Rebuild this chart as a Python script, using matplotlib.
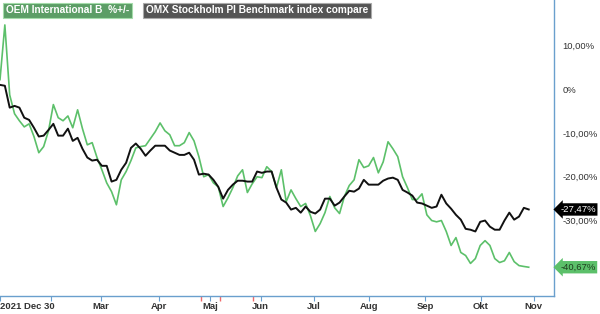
import matplotlib
matplotlib.use('Agg')
import matplotlib.pyplot as plt
import matplotlib.transforms as mtransforms
import numpy as np

# trading days since 2020-12-30, one value roughly every other trading day
last_day = 209
oem = [2.2, 14.7, -1.3, -5.6, -7.2, -8.6, -7.9, -10.8, -14.5, -13.1,
       -9.5, -3.5, -6.5, -7.2, -6.1, -8.8, -4.7, -9.0, -12.7, -12.2,
       -15.6, -18.4, -21.4, -23.4, -26.4, -20.7, -18.8, -16.3, -13.4, -13.1,
       -12.9, -11.3, -9.7, -7.7, -9.5, -10.4, -12.9, -12.9, -12.2, -9.9,
       -11.8, -15.4, -20.0, -19.5, -21.4, -22.3, -26.8, -24.8, -22.5, -19.8,
       -18.4, -23.6, -21.6, -20.0, -20.2, -17.7, -18.8, -22.5, -18.4, -25.7,
       -23.0, -25.0, -26.8, -26.1, -28.9, -32.5, -30.7, -28.2, -24.5, -27.1,
       -28.4, -24.5, -22.0, -20.7, -16.1, -17.9, -17.5, -15.6, -19.1, -16.6,
       -12.0, -13.6, -15.4, -20.0, -22.5, -25.2, -25.2, -23.9, -28.7, -30.0,
       -30.3, -30.0, -32.5, -35.7, -33.9, -37.3, -38.0, -39.8, -38.7, -35.7,
       -34.6, -35.7, -38.7, -39.6, -39.2, -37.3, -39.4, -40.3, -40.5, -40.67]
omx = [1.0, 0.8, -4.2, -3.8, -4.2, -6.5, -7.0, -8.8, -10.8, -10.6,
       -9.3, -7.9, -10.6, -10.6, -9.0, -11.8, -11.1, -13.6, -15.6, -16.3,
       -16.1, -17.5, -17.5, -21.1, -20.7, -18.4, -16.8, -13.4, -12.4, -13.6,
       -15.2, -14.0, -12.9, -12.9, -12.9, -14.0, -14.5, -15.0, -15.0, -14.5,
       -16.1, -19.5, -19.3, -19.5, -20.7, -22.3, -25.0, -23.0, -21.8, -20.9,
       -20.9, -21.1, -21.1, -18.8, -19.1, -18.8, -18.8, -22.5, -25.2, -25.9,
       -27.5, -27.1, -28.2, -26.8, -28.0, -28.4, -27.5, -25.0, -25.0, -26.6,
       -25.9, -24.5, -23.2, -23.4, -22.7, -20.7, -21.8, -21.8, -21.8, -20.9,
       -20.4, -20.2, -20.7, -23.0, -23.6, -24.3, -25.9, -26.1, -26.6, -27.1,
       -26.8, -24.1, -26.1, -27.3, -28.7, -29.8, -31.9, -32.1, -32.5, -30.3,
       -30.0, -31.4, -32.1, -32.1, -30.0, -28.2, -29.8, -29.1, -27.1, -27.47]

month_days = [0, 20, 40, 63, 83, 103, 124, 146, 168, 190, 211]
month_labels = ['2021 Dec 30', '', 'Mar', 'Apr', 'Maj', 'Jun', 'Jul', 'Aug', 'Sep', 'Okt', 'Nov']
event_days = [79.5, 87, 100]
pct_ticks = [10, 0, -10, -20, -30]
pct_labels = ['10,00%', '0%', '-10,00%', '-20,00%', '-30,00%']
legend_labels = ['OEM International B  %+/-', 'OMX Stockholm PI Benchmark index compare']
end_labels = ['-40,67%', '-27,47%']

green = '#5cc06a'
axis_blue = '#6a9fcd'
plt.rcParams['font.family'] = ['Liberation Sans', 'DejaVu Sans']

fig = plt.figure(figsize=(6, 3.14), dpi=100)
ax = fig.add_axes([0.0, 0.058, 0.9225, 0.942])

x_oem = np.linspace(0, last_day, len(oem))
x_omx = np.linspace(0, last_day, len(omx))
ax.plot(x_oem, oem, color=green, lw=1.2, zorder=2)
ax.plot(x_omx, omx, color='#111111', lw=1.4, zorder=3)

ax.set_xlim(0, 218.8)
ax.set_ylim(-47.2, 20.4)

for side in ['left', 'top']:
    ax.spines[side].set_visible(False)
for side in ['right', 'bottom']:
    ax.spines[side].set_color(axis_blue)
    ax.spines[side].set_linewidth(1.0)

ax.set_xticks(month_days)
ax.set_xticklabels(month_labels, fontsize=6.8, fontweight='bold', color='#333333')
ax.get_xticklabels()[0].set_horizontalalignment('left')
ax.set_xticks(event_days, minor=True)
ax.tick_params(axis='x', which='major', length=3.5, color=axis_blue, pad=1.0)
ax.tick_params(axis='x', which='minor', length=3.5, color='#f06a6a', width=1.0)

ax.yaxis.tick_right()
ax.set_yticks(pct_ticks)
ax.set_yticklabels(pct_labels, fontsize=6.8, color='#333333')
ax.tick_params(axis='y', length=0, pad=6.5)

# value tags on the right axis
trans = mtransforms.blended_transform_factory(ax.transAxes, ax.transData)
ax.text(1.012, oem[-1], end_labels[0], transform=trans, ha='left', va='center',
        fontsize=6.8, color='#1e3d1e', clip_on=False,
        bbox=dict(boxstyle='larrow,pad=0.18', fc=green, ec='none'))
ax.text(1.012, omx[-1], end_labels[1], transform=trans, ha='left', va='center',
        fontsize=6.8, color='white', clip_on=False,
        bbox=dict(boxstyle='larrow,pad=0.18', fc='black', ec='none'))

# legend boxes at the top
fig.text(0.01, 0.967, legend_labels[0], ha='left', va='center', fontsize=7.3,
         fontweight='bold', color='white',
         bbox=dict(boxstyle='square,pad=0.25', fc='#5c9e66', ec='#a4dcaa', lw=0.8))
fig.text(0.243, 0.967, legend_labels[1], ha='left', va='center', fontsize=7.3,
         fontweight='bold', color='white',
         bbox=dict(boxstyle='square,pad=0.25', fc='#555555', ec='#aaaaaa', lw=0.8))

fig.savefig('out.png', dpi=100)
